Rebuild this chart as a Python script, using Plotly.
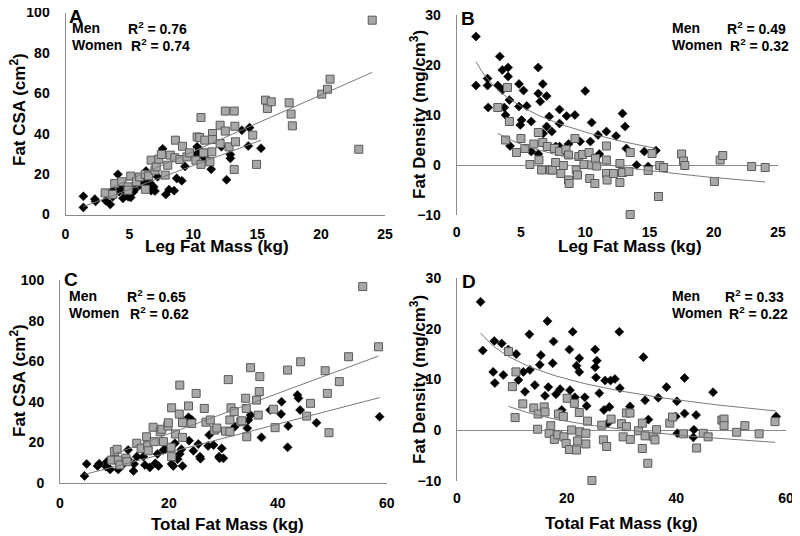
import numpy as np
import plotly.graph_objects as go

# ---------------- data ----------------
# Panel A: Leg fat mass (kg) vs Fat CSA (cm2)
a_men_x = [1.4, 1.4, 2.3, 2.35, 3.15, 3.5, 3.7, 3.7, 4.1, 4.2, 4.25, 4.5, 4.6, 4.9, 5.1, 5.3, 5.4, 5.8, 5.8, 6.1,
           6.2, 6.3, 6.3, 6.5, 6.6, 6.7, 6.9, 7.0, 7.2, 7.6, 7.85, 8.1, 8.5, 8.7, 9.1, 9.35, 10.2, 10.3, 10.5, 10.8,
           10.95, 11.0, 11.4, 12.2, 12.6, 12.9, 12.9, 13.8, 14.3, 14.4, 15.3]
a_men_y = [3.5, 9.0, 7.6, 6.5, 6.8, 5.0, 8.8, 11.7, 19.9, 11.3, 13.5, 8.0, 12.0, 8.8, 8.4, 11.2, 12.1, 15.4, 14.5, 17.1,
           16.2, 21.5, 13.5, 17.0, 15.7, 11.8, 13.7, 11.6, 18.7, 32.5, 9.9, 12.3, 11.8, 17.9, 16.7, 23.8, 29.5, 33.5, 31.9, 28.5,
           30.5, 27.5, 22.4, 33.6, 17.2, 29.7, 27.8, 41.7, 33.9, 43.0, 32.8]
a_women_x = [3.1, 3.85, 3.7, 4.4, 4.9, 5.1, 4.9, 5.55, 5.8, 6.25, 6.25, 6.5, 6.7, 7.0, 7.1, 7.3, 7.5, 7.8, 8.0, 8.2,
             8.55, 8.6, 8.95, 9.15, 9.5, 9.7, 10.3, 10.2, 10.5, 10.6, 10.6, 10.8, 10.9, 11.3, 11.45, 11.5, 11.5, 12.1, 12.1, 12.5,
             12.5, 12.8, 13.2, 13.25, 13.2, 13.3, 14.65, 14.95, 15.65, 15.8, 16.1, 17.5, 17.65, 17.75, 20.05, 20.5, 20.7, 22.95, 24.0]
a_women_y = [10.7, 15.3, 10.0, 16.2, 13.7, 19.0, 12.0, 16.2, 18.6, 12.5, 19.8, 19.1, 26.9, 21.9, 23.6, 27.4, 29.7, 19.5, 24.4, 29.4,
             28.1, 36.8, 27.2, 33.8, 28.5, 30.5, 38.4, 26.9, 38.1, 24.8, 48.0, 30.5, 36.8, 26.1, 31.0, 40.1, 37.1, 35.1, 44.2, 51.2,
             41.3, 33.5, 51.2, 43.7, 22.3, 36.0, 39.3, 24.8, 56.6, 52.5, 55.8, 55.3, 49.7, 43.9, 59.6, 62.0, 67.0, 32.3, 96.2]

# Panel B: Leg fat mass (kg) vs Fat density (mg/cm3)
b_men_x = [1.5, 1.5, 2.4, 2.4, 2.45, 3.2, 3.35, 3.55, 3.55, 3.7, 3.8, 4.0, 4.0, 4.1, 4.15, 4.85, 4.85, 4.95, 5.05, 5.2,
           5.45, 5.8, 5.8, 6.34, 6.35, 6.35, 6.5, 6.7, 6.73, 7.0, 7.0, 7.0, 7.2, 7.4, 7.7, 8.0, 8.0, 8.0, 8.55, 8.7,
           9.2, 9.6, 10.0, 10.4, 10.5, 11.0, 11.1, 11.65, 12.4, 12.9, 13.1, 13.2, 14.0, 14.6, 14.9, 15.5]
b_men_y = [25.7, 15.9, 17.3, 15.9, 11.5, 15.9, 21.7, 19.0, 15.0, 11.5, 10.0, 19.5, 17.7, 13.0, 3.8, 16.2, 11.7, 8.0, 9.0, 14.9,
           11.8, 8.7, 2.7, 19.5, 14.3, 2.2, 12.7, 16.2, 6.3, 13.8, 7.7, 3.7, 9.7, 6.7, 3.7, 11.1, 8.3, 3.7, 9.8, 4.2,
           10.0, 4.7, 14.8, 4.7, 8.5, 6.0, 2.2, 6.7, 5.8, 10.3, 7.7, 3.3, 0.0, 2.7, -0.3, 2.9]
b_women_x = [3.2, 3.8, 3.95, 4.1, 4.65, 5.0, 5.3, 5.7, 6.0, 6.35, 6.4, 6.6, 6.7, 7.05, 7.3, 7.45, 7.6, 7.7, 8.0, 8.1,
             8.3, 8.5, 8.7, 8.7, 8.75, 9.2, 9.3, 9.4, 9.5, 9.8, 9.9, 10.3, 10.35, 10.5, 10.75, 10.8, 10.9, 11.65, 11.65, 11.65,
             11.7, 12.2, 12.7, 12.7, 12.9, 13.5, 13.4, 13.5, 14.9, 15.2, 15.7, 15.8, 16.1, 17.5, 17.65, 17.75, 20.05, 20.5, 20.7,
             22.95, 24.0]
b_women_y = [11.5, 5.0, 15.5, 8.7, 2.5, 5.3, 3.3, 0.1, 4.2, 6.5, 1.0, -1.0, 4.5, 3.7, -1.0, -1.0, 3.3, 0.5, 2.7, -1.7,
             -0.1, 3.1, 2.0, -3.0, -3.7, 5.3, -1.0, -2.0, 1.7, 2.1, 0.1, 2.5, -2.7, 0.0, -3.7, 1.3, -0.2, 3.8, 1.0, -1.7,
             -3.0, -1.7, 0.3, -3.5, -1.5, 2.5, -1.3, -9.9, -1.1, 2.3, -6.3, -0.1, -0.5, 2.2, 0.8, -0.1, -3.3, 1.0, 1.9,
             -0.3, -0.5]

# Panel C: Total fat mass (kg) vs Fat CSA (cm2)
c_men_x = [4.5, 4.9, 6.9, 7.2, 8.45, 8.6, 9.2, 10.7, 11.5, 12.5, 12.5, 13.5, 13.6, 14.1, 15.3, 15.6, 16.5, 17.5, 17.9, 18.1,
           19.0, 19.3, 20.5, 20.8, 21.1, 21.6, 22.0, 22.3, 22.5, 23.6, 23.7, 24.2, 24.5, 25.4, 25.7, 25.8, 27.2, 27.4, 28.2, 29.2,
           29.3, 29.7, 30.0, 32.1, 34.4, 34.6, 35.0, 37.0, 38.6, 40.6, 40.7, 41.8, 41.9, 43.6, 43.8, 44.1, 47.1, 58.7]
c_men_y = [3.5, 9.4, 8.4, 9.5, 8.1, 10.5, 6.7, 6.7, 9.0, 16.3, 11.7, 5.9, 9.4, 13.0, 13.0, 8.9, 7.7, 9.7, 14.3, 8.4,
           16.3, 16.6, 9.4, 8.4, 19.6, 11.7, 14.3, 16.6, 8.4, 32.4, 20.9, 31.2, 15.9, 19.2, 13.0, 12.0, 18.3, 23.7, 18.7, 13.0,
           12.2, 17.1, 12.2, 27.8, 27.0, 31.1, 33.5, 22.5, 36.0, 34.0, 40.1, 17.6, 28.1, 43.4, 41.8, 36.0, 29.7, 32.7]
c_women_x = [9.5, 10.0, 10.5, 10.7, 11.0, 12.1, 12.3, 14.1, 14.9, 15.9, 16.1, 16.2, 17.1, 17.3, 18.4, 18.7, 19.0, 19.8, 19.9, 20.4,
             20.5, 20.5, 21.2, 21.9, 22.0, 22.5, 22.5, 23.6, 24.2, 25.0, 26.5, 26.8, 27.6, 28.4, 28.8, 30.4, 30.9, 31.2, 31.2, 31.4,
             32.0, 33.2, 33.4, 34.1, 34.2, 34.3, 35.0, 36.1, 36.4, 36.6, 36.7, 39.2, 39.5, 41.8, 44.2, 45.3, 46.0, 48.7, 49.1, 49.4,
             51.3, 53.0, 55.6, 58.5]
c_women_y = [11.3, 15.5, 16.6, 11.3, 8.9, 12.2, 10.5, 19.6, 17.1, 22.8, 18.7, 15.9, 27.5, 20.4, 25.3, 26.5, 20.4, 28.1, 29.7, 17.6,
             37.1, 13.0, 24.2, 34.0, 48.3, 29.8, 22.5, 38.0, 29.4, 44.2, 36.8, 30.0, 31.1, 26.1, 27.1, 25.6, 51.0, 31.1, 25.3, 37.1,
             35.2, 30.2, 30.7, 41.8, 36.8, 22.8, 56.9, 40.9, 33.5, 45.1, 52.5, 36.4, 27.3, 55.7, 59.8, 33.0, 39.3, 55.4, 44.2, 24.8,
             50.0, 62.3, 96.9, 67.2]

# Panel D: Total fat mass (kg) vs Fat density (mg/cm3)
d_men_x = [4.3, 4.7, 6.6, 6.8, 6.9, 8.15, 8.45, 9.35, 10.8, 11.2, 12.1, 12.4, 13.2, 13.3, 14.2, 15.1, 15.3, 16.05, 16.5, 16.65,
           17.45, 17.6, 18.05, 18.8, 19.1, 20.5, 20.6, 21.1, 21.5, 21.8, 22.3, 22.3, 23.3, 23.65, 25.2, 25.5, 25.2, 25.35, 25.95, 26.8,
           27.0, 27.5, 27.8, 28.0, 28.8, 29.6, 29.7, 31.55, 34.0, 34.3, 34.9, 36.7, 38.2, 39.9, 40.1, 40.2, 41.5, 41.5, 43.1, 43.2,
           43.6, 46.7, 58.2]
d_men_y = [25.3, 15.7, 11.5, 17.6, 9.3, 17.1, 10.9, 15.9, 15.0, 9.9, 11.5, 7.6, 18.9, 11.9, 8.9, 12.9, 14.8, 6.8, 21.5, 8.5,
           13.2, 17.5, 7.1, 8.1, 4.0, 15.9, 7.9, 19.4, 6.5, 12.7, 14.2, 11.5, 6.5, 4.8, 15.9, 13.7, 12.4, 10.4, 7.3, 4.0,
           9.8, 1.4, 4.6, 9.8, 10.1, 19.4, 8.3, 4.7, 14.4, 5.9, 2.1, 6.4, 8.5, 2.7, 5.7, -0.6, 10.3, 3.3, -1.4, 0.1,
           3.0, 7.5, 2.7]
d_women_x = [9.4, 10.1, 10.6, 10.75, 12.0, 14.0, 14.7, 14.8, 15.9, 16.05, 16.8, 17.1, 17.75, 18.4, 18.5, 19.4, 19.5, 19.9, 20.1, 20.5,
             20.9, 21.4, 21.8, 22.0, 22.3, 22.4, 23.5, 23.5, 23.8, 24.6, 26.4, 26.7, 27.3, 28.1, 30.0, 30.3, 30.9, 30.9, 31.6, 31.55,
             33.1, 33.8, 33.8, 34.3, 34.8, 35.8, 36.1, 36.4, 38.8, 39.3, 41.3, 43.7, 44.9, 45.8, 48.3, 48.7, 48.7, 51.0, 52.5, 55.1,
             58.0]
d_women_y = [15.5, 8.6, 2.5, 11.5, 5.2, 4.4, 0.2, 3.2, 4.6, 3.6, -0.6, 0.9, -1.8, -0.9, 3.2, 2.7, -1.3, -2.6, 6.3, -3.8,
             0.05, 5.3, -3.9, -2.1, 3.5, -0.3, -0.6, -2.7, 1.8, -9.9, 1.0, -1.9, -3.2, 2.2, 1.3, -1.3, 0.7, 3.4, -1.8, 3.4,
             -0.1, 1.4, -3.6, -1.1, -6.5, -1.2, -1.9, 0.1, 1.4, 2.6, -0.7, -3.5, -0.6, -1.3, 2.0, 2.2, 0.9, -0.4, 0.9, -0.7,
             1.7]

panel_letters = ["A", "B", "C", "D"]
r2_men = ["0.76", "0.49", "0.65", "0.33"]
r2_women = ["0.74", "0.32", "0.62", "0.22"]
x_titles = ["Leg Fat Mass (kg)", "Leg Fat Mass (kg)", "Total Fat Mass (kg)", "Total Fat Mass (kg)"]
y_titles = ["Fat CSA (cm<sup>2</sup>)", "Fat Density (mg/cm<sup>3</sup>)",
            "Fat CSA (cm<sup>2</sup>)", "Fat Density (mg/cm<sup>3</sup>)"]
fit_kind = ["lin", "log", "lin", "log"]

# ---------------- figure ----------------
W, H = 800, 536
OFF = 8                                   # page offset of the figure in the browser window
ML, MR, MT, MB = 30, 10, 2, 40            # fixed margins (nothing overflows them)
PW, PH = W - ML - MR, H - MT - MB
FONT = "Arial, Liberation Sans, sans-serif"
AXIS_GRAY = "#8a8a8a"
LINE_GRAY = "#7a7a7a"

panels = [
    dict(men=(a_men_x, a_men_y), women=(a_women_x, a_women_y), xr=[0, 25], yr=[0, 100], xd=5, yd=20,
         px=(65.5, 385), py=(12.5, 214.5)),
    dict(men=(b_men_x, b_men_y), women=(b_women_x, b_women_y), xr=[0, 25], yr=[-10, 30], xd=5, yd=10,
         px=(456.7, 778), py=(15, 215)),
    dict(men=(c_men_x, c_men_y), women=(c_women_x, c_women_y), xr=[0, 60], yr=[0, 100], xd=20, yd=20,
         px=(60, 386.7), py=(280.3, 483)),
    dict(men=(d_men_x, d_men_y), women=(d_women_x, d_women_y), xr=[0, 60], yr=[-10, 30], xd=20, yd=10,
         px=(457, 786), py=(278, 481)),
]


def fx(p):
    return (p - OFF - ML) / PW


def fy(p):
    return 1 - (p - OFF - MT) / PH


def trend(x, y, kind):
    x = np.asarray(x, float)
    y = np.asarray(y, float)
    xs = np.linspace(x.min(), x.max(), 60)
    if kind == "lin":
        b, a = np.polyfit(x, y, 1)
        return xs, a + b * xs
    b, a = np.polyfit(np.log(x), y, 1)
    return xs, a + b * np.log(xs)


fig = go.Figure()
layout = dict(width=W, height=H, autosize=False, margin=dict(l=ML, r=MR, t=MT, b=MB, pad=0),
              paper_bgcolor="white", plot_bgcolor="white", showlegend=False,
              font=dict(family=FONT, color="black"))
annotations = []

for i, p in enumerate(panels):
    n = "" if i == 0 else str(i + 1)
    xa, ya = "x" + n, "y" + n
    mx, my = p["men"]
    wx, wy = p["women"]
    fig.add_trace(go.Scatter(x=mx, y=my, mode="markers", xaxis=xa, yaxis=ya, cliponaxis=False,
                             marker=dict(symbol="diamond", size=7, color="black",
                                         line=dict(color="black", width=0.5))))
    fig.add_trace(go.Scatter(x=wx, y=wy, mode="markers", xaxis=xa, yaxis=ya, cliponaxis=False,
                             marker=dict(symbol="square", size=8, color="#a8a8a8",
                                         line=dict(color="#5a5a5a", width=1))))
    for gx, gy in ((mx, my), (wx, wy)):
        tx, ty = trend(gx, gy, fit_kind[i])
        fig.add_trace(go.Scatter(x=tx, y=ty, mode="lines", xaxis=xa, yaxis=ya,
                                 line=dict(color=LINE_GRAY, width=1), hoverinfo="skip"))

    is_density = p["yr"][0] < 0
    layout["xaxis" + n] = dict(domain=[fx(p["px"][0]), fx(p["px"][1])], range=p["xr"], dtick=p["xd"],
                               anchor=ya, showgrid=False, zeroline=False, automargin=False,
                               showline=not is_density, linecolor=AXIS_GRAY, linewidth=1,
                               ticks="", ticklabelstandoff=7, ticklabeloverflow="allow",
                               tickfont=dict(family=FONT, size=14, color="black", weight="bold"))
    layout["yaxis" + n] = dict(domain=[fy(p["py"][1]), fy(p["py"][0])], range=p["yr"], dtick=p["yd"],
                               anchor=xa, showgrid=False, zeroline=is_density, zerolinecolor=AXIS_GRAY,
                               zerolinewidth=1, showline=True, linecolor=AXIS_GRAY, linewidth=1,
                               automargin=False, ticks="", ticklabelstandoff=12, ticklabeloverflow="allow",
                               tickfont=dict(family=FONT, size=14, color="black", weight="bold"))

# text positions (pixels in the window)
letter_pos = [(67, 16), (459, 18), (62, 279), (460, 281)]
label_x = [70, 670, 67, 670]
r2_x_men = [126, 725, 125, 723]
r2_x_women = [129, 728, 128, 727]
men_y = [28, 28, 296, 296]
women_y = [45, 45, 313, 313]
ytitle_pos = [(18, 110), (418, 115), (18, 381), (418, 380)]
xtitle_pos = [(217, 247), (630, 247), (227, 524), (621, 523)]


def ann(x, y, text, size, xanchor="left", angle=0):
    return dict(x=fx(x), y=fy(y), xref="paper", yref="paper", text=text, showarrow=False,
                xanchor=xanchor, yanchor="middle", textangle=angle,
                font=dict(family=FONT, size=size, color="black", weight="bold"))


for i in range(4):
    annotations.append(ann(letter_pos[i][0], letter_pos[i][1], panel_letters[i], 19))
    annotations.append(ann(label_x[i], men_y[i], "Men", 14))
    annotations.append(ann(r2_x_men[i], men_y[i], "R<sup>2</sup> = " + r2_men[i], 14))
    annotations.append(ann(label_x[i], women_y[i], "Women", 14))
    annotations.append(ann(r2_x_women[i], women_y[i], "R<sup>2</sup> = " + r2_women[i], 14))
    annotations.append(ann(ytitle_pos[i][0], ytitle_pos[i][1], y_titles[i], 17, "center", -90))
    annotations.append(ann(xtitle_pos[i][0], xtitle_pos[i][1], x_titles[i], 17, "center"))

layout["annotations"] = annotations
fig.update_layout(**layout)
fig.write_html("out.html")
